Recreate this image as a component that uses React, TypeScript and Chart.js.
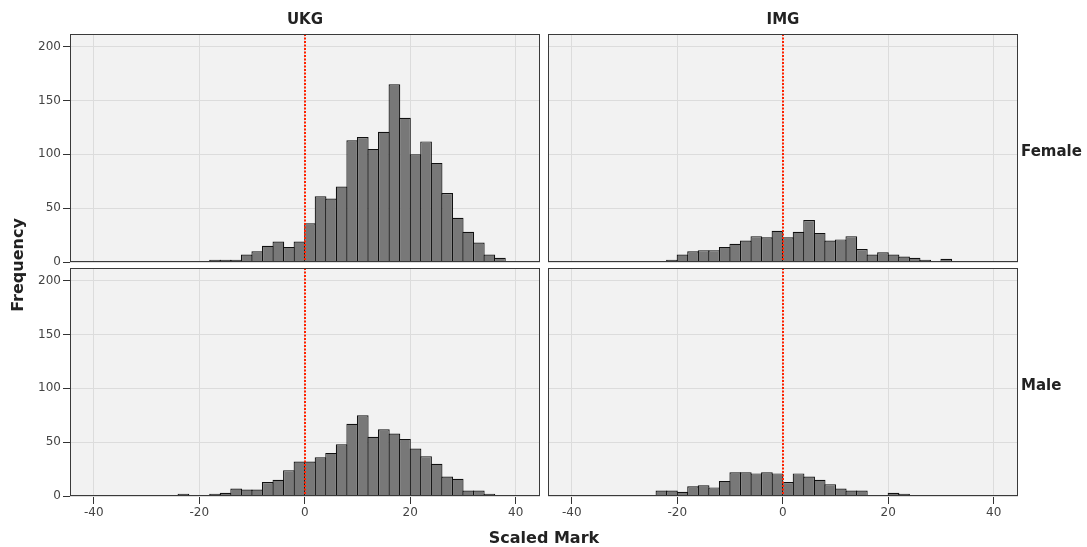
import React, { useEffect, useRef } from "react";
import { Chart, registerables } from "chart.js";

Chart.register(...registerables);

// ---- data ----
const binCenters = [
  -35, -33, -31, -29, -27, -25, -23, -21, -19, -17, -15, -13, -11, -9, -7, -5, -3, -1,
  1, 3, 5, 7, 9, 11, 13, 15, 17, 19, 21, 23, 25, 27, 29, 31, 33, 35, 37,
];
const ukgFemale = [
  0, 0, 0, 0, 0, 0, 0, 0, 1, 2, 2, 2, 7, 10, 15, 19, 14, 19,
  36, 61, 59, 70, 113, 116, 105, 121, 165, 134, 100, 112, 92, 64, 41, 28, 18, 7, 4,
];
const imgFemale = [
  1, 0, 0, 1, 0, 0, 1, 2, 7, 10, 11, 11, 14, 17, 20, 24, 23, 29,
  23, 28, 39, 27, 20, 21, 24, 12, 7, 9, 7, 5, 4, 2, 0, 3, 0, 0, 0,
];
const ukgMale = [
  0, 0, 0, 0, 0, 1, 2, 0, 1, 2, 3, 7, 6, 6, 13, 15, 24, 32,
  32, 36, 40, 48, 67, 75, 55, 62, 58, 53, 44, 37, 30, 18, 16, 5, 5, 2, 0,
];
const imgMale = [
  0, 0, 0, 1, 0, 0, 5, 5, 4, 9, 10, 8, 14, 22, 22, 21, 22, 21,
  13, 21, 18, 15, 11, 7, 5, 5, 0, 1, 3, 2, 0, 0, 0, 0, 0, 0, 0,
];
const xTicks = [-40, -20, 0, 20, 40];
const yTicks = [0, 50, 100, 150, 200];
const columnLabels = ["UKG", "IMG"];
const rowLabels = ["Female", "Male"];
const xTitle = "Scaled Mark";
const yTitle = "Frequency";
const referenceValue = 0;
const xMin = -44.5;
const xMax = 44.6;
const yMax = 211.7;

// ---- layout ----
const PW = 470;
const PH = 228;
const colLeft = [70, 548];
const rowTop = [34, 268];
const FONT = "'DejaVu Sans', sans-serif";

const deco = {
  id: "deco",
  beforeDraw(chart: any) {
    const { ctx, chartArea: a } = chart;
    ctx.save();
    ctx.fillStyle = "#f2f2f2";
    ctx.fillRect(a.left, a.top, a.width, a.height);
    ctx.restore();
  },
  afterDatasetsDraw(chart: any) {
    const { ctx, chartArea: a } = chart;
    const x = Math.round(chart.scales.x.getPixelForValue(referenceValue));
    ctx.save();
    ctx.strokeStyle = "#ff2200";
    ctx.lineWidth = 2;
    ctx.setLineDash([2, 1.5]);
    ctx.beginPath();
    ctx.moveTo(x, a.top);
    ctx.lineTo(x, a.bottom);
    ctx.stroke();
    ctx.restore();
  },
  afterDraw(chart: any) {
    const { ctx, chartArea: a } = chart;
    ctx.save();
    ctx.strokeStyle = "#3a3a3a";
    ctx.lineWidth = 1;
    ctx.strokeRect(a.left + 0.5, a.top + 0.5, a.width - 1, a.height - 1);
    ctx.restore();
  },
};

function Panel({ values, row, col }: { values: number[]; row: number; col: number }) {
  const ref = useRef<HTMLCanvasElement>(null);
  const showY = col === 0;
  const showX = row === 1;
  const yW = showY ? 50 : 0;
  const xH = showX ? 30 : 0;
  const pad = { left: 16, top: 12, right: 16, bottom: 12 };
  const cw = pad.left + yW + PW + pad.right;
  const chh = pad.top + PH + xH + pad.bottom;
  const cl = colLeft[col] - pad.left - yW;
  const ct = rowTop[row] - pad.top;

  useEffect(() => {
    if (!ref.current) return;
    const chart = new Chart(ref.current, {
      type: "bar",
      data: {
        datasets: [
          {
            data: binCenters.map((x, i) => ({ x, y: values[i] })) as any,
            backgroundColor: "#787878",
            borderColor: "#111111",
            borderWidth: 1.2,
            inflateAmount: 0,
            barPercentage: 1.11,
            categoryPercentage: 1,
          } as any,
        ],
      },
      options: {
        responsive: false,
        animation: false,
        layout: { padding: pad },
        plugins: { legend: { display: false }, tooltip: { enabled: false } },
        scales: {
          x: {
            type: "linear",
            offset: false,
            min: xMin,
            max: xMax,
            afterBuildTicks: (s: any) => {
              s.ticks = xTicks.map((v) => ({ value: v }));
            },
            afterFit: (s: any) => {
              s.height = xH;
            },
            border: { display: false },
            grid: {
              offset: false,
              color: "#dcdcdc",
              lineWidth: 1,
              drawTicks: showX,
              tickLength: 8,
              tickColor: "#333333",
            },
            ticks: {
              display: showX,
              color: "#444444",
              font: { family: FONT, size: 12 },
              padding: 2,
              maxRotation: 0,
              autoSkip: false,
            },
          },
          y: {
            type: "linear",
            min: 0,
            max: yMax,
            afterBuildTicks: (s: any) => {
              s.ticks = yTicks.map((v) => ({ value: v }));
            },
            afterFit: (s: any) => {
              s.width = yW;
            },
            border: { display: false },
            grid: {
              color: "#dcdcdc",
              lineWidth: 1,
              drawTicks: showY,
              tickLength: 7,
              tickColor: "#333333",
            },
            ticks: {
              display: showY,
              color: "#444444",
              font: { family: FONT, size: 12 },
              padding: 2,
              autoSkip: false,
            },
          },
        },
      } as any,
      plugins: [deco],
    });
    return () => chart.destroy();
  }, []);

  return (
    <canvas
      ref={ref}
      width={cw}
      height={chh}
      style={{ position: "absolute", left: cl, top: ct, width: cw, height: chh }}
    />
  );
}

const titleStyle: React.CSSProperties = {
  position: "absolute",
  fontFamily: FONT,
  fontWeight: "bold",
  color: "#222222",
  whiteSpace: "nowrap",
  lineHeight: "20px",
};

export default function App() {
  const series = [
    [ukgFemale, imgFemale],
    [ukgMale, imgMale],
  ];
  return (
    <div
      style={{
        position: "absolute",
        left: 0,
        top: 0,
        width: 1087,
        height: 547,
        background: "#ffffff",
        overflow: "hidden",
      }}
    >
      {series.map((r, ri) =>
        r.map((vals, ci) => <Panel key={`${ri}-${ci}`} values={vals} row={ri} col={ci} />)
      )}
      {columnLabels.map((t, i) => (
        <div
          key={t}
          style={{
            ...titleStyle,
            fontSize: 15,
            left: colLeft[i],
            width: PW,
            top: 9,
            textAlign: "center",
          }}
        >
          {t}
        </div>
      ))}
      {rowLabels.map((t, i) => (
        <div
          key={t}
          style={{
            ...titleStyle,
            fontSize: 15,
            left: 1021,
            top: rowTop[i] + PH / 2 + 3 - 10,
          }}
        >
          {t}
        </div>
      ))}
      <div
        style={{
          ...titleStyle,
          fontSize: 16,
          left: 18 - 60,
          width: 120,
          top: 265 - 10,
          textAlign: "center",
          transform: "rotate(-90deg)",
        }}
      >
        {yTitle}
      </div>
      <div
        style={{
          ...titleStyle,
          fontSize: 16,
          left: 544 - 100,
          width: 200,
          top: 528,
          textAlign: "center",
        }}
      >
        {xTitle}
      </div>
    </div>
  );
}
